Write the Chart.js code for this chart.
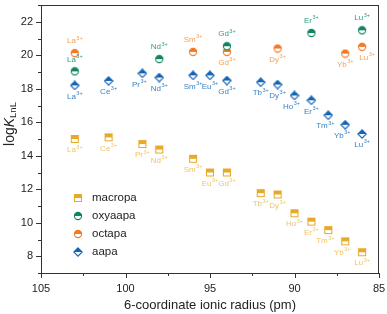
<!DOCTYPE html>
<html>
<head>
<meta charset="utf-8">
<script src="https://cdn.jsdelivr.net/npm/chart.js@4"></script>
<style>
  html, body { margin: 0; padding: 0; background: #fff; }
  #wrap { width: 387px; height: 314px; }
</style>
</head>
<body>
<div id="wrap"><canvas id="lnChart" width="387" height="314"></canvas></div>
<script>
// ---- data ----
const ions = ['La', 'Ce', 'Pr', 'Nd', 'Sm', 'Eu', 'Gd', 'Tb', 'Dy', 'Ho', 'Er', 'Tm', 'Yb', 'Lu'];
const radius = [103, 101, 99, 98, 96, 95, 94, 92, 91, 90, 89, 88, 87, 86];
const macropa = [15.0, 15.1, 14.7, 14.37, 13.82, 13.0, 13.0, 11.77, 11.69, 10.57, 10.07, 9.56, 8.89, 8.24];
const oxyaapa = [19.04, null, null, 19.77, null, null, 20.54, null, null, null, 21.33, null, null, 21.49];
const octapa  = [20.13, null, null, null, 20.2, null, 20.2, null, 20.4, null, null, null, 20.1, 20.5];
const aapa    = [18.2, 18.47, 18.92, 18.67, 18.8, 18.8, 18.49, 18.39, 18.25, 17.6, 17.31, 16.42, 15.85, 15.3];
const xTicks = [105, 100, 95, 90, 85];
const yTicks = [8, 10, 12, 14, 16, 18, 20, 22];

// half-filled marker images
function makeMarker(shape, color) {
    const c = document.createElement('canvas');
    c.width = 10; c.height = 10;
    const g = c.getContext('2d');
    const path = () => {
        g.beginPath();
        if (shape === 'square') g.rect(1.5, 1.5, 7, 7);
        else if (shape === 'circle') g.arc(5, 5, 3.6, 0, Math.PI * 2);
        else { g.moveTo(5, 0.8); g.lineTo(9.2, 5); g.lineTo(5, 9.2); g.lineTo(0.8, 5); g.closePath(); }
    };
    g.fillStyle = '#fff'; path(); g.fill();
    g.save(); g.beginPath(); g.rect(0, 0, 10, 5); g.clip();
    g.fillStyle = color; path(); g.fill();
    g.restore();
    g.strokeStyle = color; g.lineWidth = 1.1; path(); g.stroke();
    return c;
}

const toPts = (vals) => vals.map((v, i) => v == null ? null : { x: radius[i], y: v }).filter(p => p);
const labelsOf = (vals) => vals.map((v, i) => v == null ? null : ions[i]).filter(p => p);

const series = [
    { label: 'macropa', vals: macropa, color: '#E8A92A', text: '#F0C468', shape: 'square',
      pos: ['b','b','b','b','b','b','b','b','b','b','b','bl','bl','b'] },
    { label: 'oxyaapa', vals: oxyaapa, color: '#118463', text: '#2F9C84', shape: 'circle',
      pos: ['a','a','a','a','a'] },
    { label: 'octapa', vals: octapa, color: '#F27A26', text: '#F4A05A', shape: 'circle',
      pos: ['a','a','b','b','b','br'] },
    { label: 'aapa', vals: aapa, color: '#1464B4', text: '#3A82C6', shape: 'diamond',
      pos: ['b','b','bl','b','b','b','b','b','b','bl','b','bl','bl','b'] }
];

const datasets = series.map(s => ({
    label: s.label,
    data: toPts(s.vals),
    ionLabels: labelsOf(s.vals),
    labelPos: s.pos,
    textColor: s.text,
    pointStyle: makeMarker(s.shape, s.color),
    marker: makeMarker(s.shape, s.color),
    borderColor: s.color,
    backgroundColor: s.color,
    showLine: false
}));

// ion labels like La3+
const ionLabelPlugin = {
    id: 'ionLabels',
    afterDatasetsDraw(chart) {
        const ctx = chart.ctx;
        chart.data.datasets.forEach((ds, di) => {
            const meta = chart.getDatasetMeta(di);
            meta.data.forEach((pt, i) => {
                const pos = ds.labelPos[i] || 'b';
                let x = pt.x, y = pt.y;
                if (pos[0] === 'a') y -= 12; else y += 11;
                if (pos[1] === 'l') x -= 3;
                if (pos[1] === 'r') x += 5;
                ctx.save();
                ctx.fillStyle = ds.textColor;
                ctx.textBaseline = 'middle';
                ctx.font = '8px "Liberation Sans", Arial, sans-serif';
                const w1 = ctx.measureText(ds.ionLabels[i]).width;
                ctx.font = '5.5px "Liberation Sans", Arial, sans-serif';
                const w2 = ctx.measureText('3+').width;
                const x0 = x - (w1 + w2 + 0.5) / 2;
                ctx.font = '8px "Liberation Sans", Arial, sans-serif';
                ctx.textAlign = 'left';
                ctx.fillText(ds.ionLabels[i], x0, y);
                ctx.font = '5.5px "Liberation Sans", Arial, sans-serif';
                ctx.fillText('3+', x0 + w1 + 0.5, y - 3);
                ctx.restore();
            });
        });
    }
};

// frame, tick marks, legend and y title
const framePlugin = {
    id: 'frame',
    afterDraw(chart) {
        const ctx = chart.ctx;
        const a = chart.chartArea;
        const xs = chart.scales.x, ys = chart.scales.y;
        ctx.save();
        ctx.strokeStyle = '#333';
        ctx.lineWidth = 1;
        ctx.strokeRect(a.left + 0.5, a.top + 0.5, a.right - a.left - 1, a.bottom - a.top);
        ctx.beginPath();
        for (let v = 85; v <= 105; v += 2.5) {
            const px = Math.round(xs.getPixelForValue(v)) + 0.5;
            const len = v % 5 === 0 ? 5 : 3;
            ctx.moveTo(px, a.bottom); ctx.lineTo(px, a.bottom + len);
        }
        for (let v = 7; v <= 23; v += 1) {
            const py = Math.round(ys.getPixelForValue(v)) + 0.5;
            const len = v % 2 === 0 ? 5 : 3;
            ctx.moveTo(a.left, py); ctx.lineTo(a.left - len, py);
        }
        ctx.stroke();

        // legend
        chart.data.datasets.forEach((ds, i) => {
            const y = 198 + i * 18;
            ctx.drawImage(ds.marker, 73, y - 5);
            ctx.fillStyle = '#222';
            ctx.font = '11.5px "Liberation Sans", Arial, sans-serif';
            ctx.textBaseline = 'middle';
            ctx.textAlign = 'left';
            ctx.fillText(ds.label, 92, y);
        });

        // y title: logK(LnL)
        ctx.translate(10, 124);
        ctx.rotate(-Math.PI / 2);
        ctx.fillStyle = '#222';
        ctx.textBaseline = 'middle';
        ctx.font = '14px "Liberation Sans", Arial, sans-serif';
        const w1 = ctx.measureText('log').width;
        ctx.font = 'italic 14px "Liberation Sans", Arial, sans-serif';
        const w2 = ctx.measureText('K').width;
        ctx.font = '9.5px "Liberation Sans", Arial, sans-serif';
        const w3 = ctx.measureText('LnL').width;
        let x = -(w1 + w2 + w3) / 2;
        ctx.font = '14px "Liberation Sans", Arial, sans-serif';
        ctx.fillText('log', x, 0); x += w1;
        ctx.font = 'italic 14px "Liberation Sans", Arial, sans-serif';
        ctx.fillText('K', x, 0); x += w2;
        ctx.font = '9.5px "Liberation Sans", Arial, sans-serif';
        ctx.fillText('LnL', x, 3);
        ctx.restore();
    }
};

Chart.defaults.font.family = '"Liberation Sans", Arial, sans-serif';
Chart.defaults.color = '#222';

new Chart(document.getElementById('lnChart'), {
    type: 'scatter',
    data: { datasets: datasets },
    options: {
        responsive: false,
        animation: false,
        layout: { padding: { top: 2, right: 8, left: 0, bottom: 0 } },
        elements: { point: { radius: 4 } },
        plugins: { legend: { display: false }, tooltip: { enabled: false } },
        scales: {
            x: {
                type: 'linear', reverse: true, min: 85, max: 105,
                afterBuildTicks: s => { s.ticks = xTicks.map(v => ({ value: v })); },
                grid: { display: false, drawTicks: false },
                border: { display: false },
                ticks: { font: { size: 11 }, color: '#222', padding: 9, maxRotation: 0 },
                title: { display: true, text: '6-coordinate ionic radius (pm)', font: { size: 13 }, color: '#222', padding: { top: 0, bottom: 1 } },
                afterFit: s => { s.height = 41; s.paddingLeft = 0; s.paddingRight = 0; }
            },
            y: {
                type: 'linear', min: 7, max: 23,
                afterBuildTicks: s => { s.ticks = yTicks.map(v => ({ value: v })); },
                grid: { display: false, drawTicks: false },
                border: { display: false },
                ticks: { font: { size: 11 }, color: '#222', padding: 8 },
                afterFit: s => { s.width = 41; s.paddingTop = 0; s.paddingBottom = 0; }
            }
        }
    },
    plugins: [ionLabelPlugin, framePlugin]
});
</script>
</body>
</html>
